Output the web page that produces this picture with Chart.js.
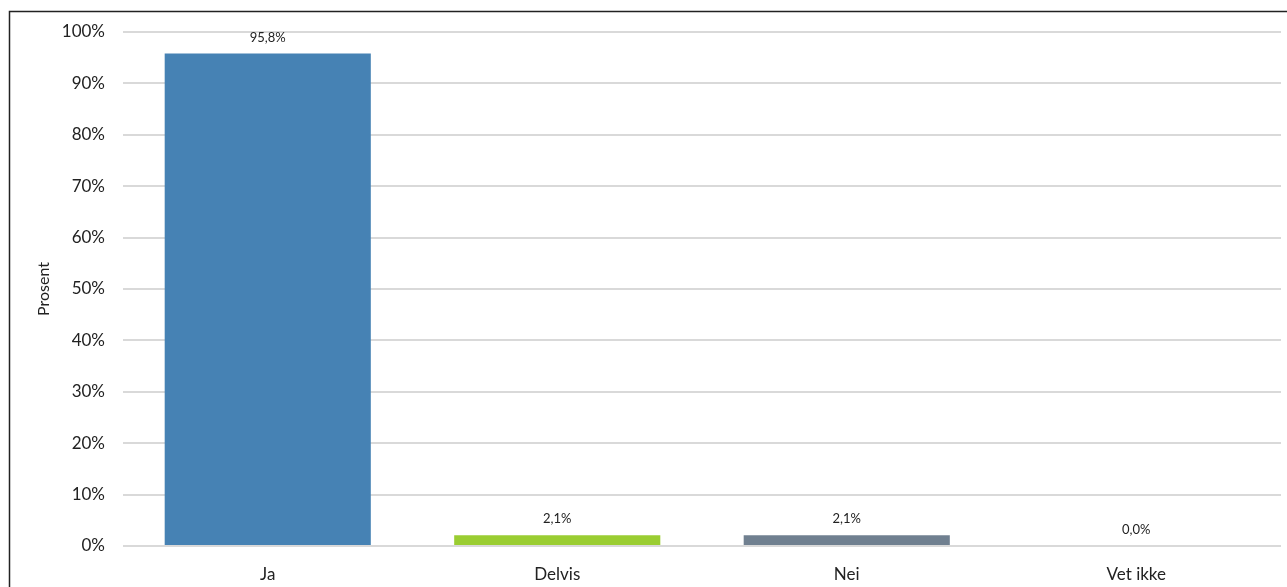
<!DOCTYPE html>
<html>
<head>
<meta charset="utf-8">
<script src="https://cdn.jsdelivr.net/npm/chart.js@4"></script>
<style>
  html, body { margin: 0; padding: 0; background: #fff; }
  #wrap { width: 1287px; height: 587px; position: relative; }
</style>
</head>
<body>
<div id="wrap"><canvas id="graf"></canvas></div>
<script>
// Kategorier og verdier
const kategorier = ['Ja', 'Delvis', 'Nei', 'Vet ikke'];
const prosent = [95.8, 2.1, 2.1, 0.0];
const farger = ['#4682b4', '#9acd32', '#708090', '#708090'];
const yTicks = [0, 10, 20, 30, 40, 50, 60, 70, 80, 90, 100];

const fontFamily = 'Lato, "Open Sans", sans-serif';

// Ramme rundt diagrammet
const rammePlugin = {
  id: 'ramme',
  beforeDraw(chart) {
    const ctx = chart.ctx;
    ctx.save();
    ctx.strokeStyle = '#222';
    ctx.lineWidth = 1.5;
    ctx.strokeRect(9.5, 11.5, 1290, 600);
    ctx.restore();
  }
};

// Verdier over stolpene
const etiketterPlugin = {
  id: 'etiketter',
  afterDatasetsDraw(chart) {
    const ctx = chart.ctx;
    const meta = chart.getDatasetMeta(0);
    ctx.save();
    ctx.font = '13px ' + fontFamily;
    ctx.fillStyle = '#222';
    ctx.textAlign = 'center';
    ctx.textBaseline = 'middle';
    meta.data.forEach((bar, i) => {
      const txt = prosent[i].toFixed(1).replace('.', ',') + '%';
      ctx.fillText(txt, bar.x, bar.y - 16);
    });
    ctx.restore();
  }
};

new Chart(document.querySelector('#graf'), {
  type: 'bar',
  data: {
    labels: kategorier,
    datasets: [{
      data: prosent,
      backgroundColor: farger,
      borderWidth: 0,
      categoryPercentage: 1,
      barPercentage: 0.712
    }]
  },
  options: {
    responsive: true,
    maintainAspectRatio: false,
    animation: false,
    layout: { padding: { top: 32, right: 6, left: 0, bottom: 0 } },
    plugins: {
      legend: { display: false },
      tooltip: { enabled: false }
    },
    scales: {
      x: {
        grid: { display: false },
        border: { display: false },
        ticks: {
          color: '#222',
          font: { family: fontFamily, size: 17 },
          padding: 10,
          maxRotation: 0
        },
        afterFit(scale) { scale.height = 41; }
      },
      y: {
        min: 0,
        max: 100,
        afterBuildTicks(scale) { scale.ticks = yTicks.map(v => ({ value: v })); },
        grid: { color: '#d9d9d9', lineWidth: 2, drawTicks: false },
        border: { display: false },
        ticks: {
          color: '#222',
          font: { family: fontFamily, size: 17 },
          padding: 18,
          callback: v => v + '%'
        },
        title: {
          display: true,
          text: 'Prosent',
          color: '#222',
          font: { family: fontFamily, size: 16 },
          padding: { top: 34, bottom: 0 }
        },
        afterFit(scale) { scale.width = 123; }
      }
    }
  },
  plugins: [rammePlugin, etiketterPlugin]
});
</script>
</body>
</html>
